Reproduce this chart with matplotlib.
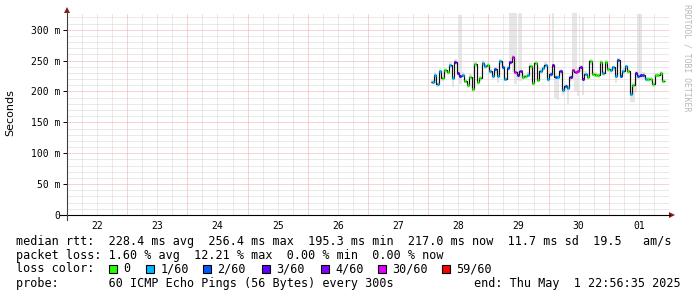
import numpy as np
import matplotlib
matplotlib.use('Agg')
from matplotlib import pyplot as plt
from matplotlib.patches import Rectangle, Polygon
from matplotlib.lines import Line2D

W, H = 697, 297

# time axis in hours since Apr 22 00:00, ten days shown
first_hour = 145.3
day_labels = ['22', '23', '24', '25', '26', '27', '28', '29', '30', '01']

# hourly median rtt (ms)
median_ms = [215.1, 225.9, 211.9, 233.5, 221.6, 234.6, 230.8, 242.2, 221.6, 247.6,
             229.7, 224.3, 227.0, 217.3, 209.7, 223.8, 203.2, 244.3, 214.6, 221.6,
             245.4, 240.5, 243.2, 232.4, 225.4, 236.2, 225.4, 248.6, 240.0, 220.5,
             237.8, 247.6, 256.4, 230.8, 227.0, 232.4, 223.2, 224.3, 227.0, 241.6,
             213.0, 245.9, 218.9, 233.5, 237.8, 243.2, 219.5, 228.1, 243.2, 223.8,
             223.8, 232.4, 202.2, 208.1, 205.4, 222.7, 235.1, 230.8, 232.4, 238.9,
             220.0, 228.6, 223.2, 248.6, 228.6, 227.0, 225.9, 247.6, 229.7, 247.0,
             236.2, 235.1, 238.9, 225.4, 250.8, 225.4, 233.5, 240.5, 232.4, 195.3,
             210.8, 229.7, 225.4, 225.9, 225.9, 220.5, 220.0, 220.5, 211.9, 227.0,
             227.0, 229.7, 217.0]

# lost pings out of 60
loss_count = [1, 1, 1, 1, 0, 0, 0, 1, 1, 3,
              3, 3, 1, 0, 0, 0, 0, 0, 0, 0,
              1, 1, 0, 1, 1, 2, 1, 1, 2, 1,
              2, 3, 30, 30, 3, 4, 0, 0, 1, 0,
              0, 0, 0, 1, 1, 1, 1, 2, 3, 2,
              1, 3, 1, 2, 1, 3, 30, 30, 30, 4,
              3, 1, 0, 0, 0, 0, 0, 0, 1, 0,
              0, 1, 1, 1, 2, 2, 1, 1, 0, 1,
              0, 3, 2, 3, 2, 1, 0, 0, 0, 0,
              0, 0, 0]

# smoke: spread of the pings above / below the median (ms)
smoke_up = [4, 5, 3, 4, 3, 4, 3, 5, 4, 5,
            5, 100, 4, 3, 3, 4, 3, 5, 3, 4,
            5, 4, 3, 4, 3, 4, 3, 4, 4, 3,
            4, 100, 100, 100, 6, 100, 3, 3, 4, 4,
            3, 4, 3, 4, 3, 4, 3, 4, 100, 4,
            3, 4, 3, 4, 3, 4, 100, 100, 6, 4,
            100, 4, 3, 4, 3, 4, 3, 4, 3, 4,
            3, 4, 3, 4, 4, 3, 4, 3, 4, 4,
            4, 4, 100, 100, 5, 3, 4, 3, 4, 3,
            3, 4, 3]
smoke_down = [3, 12, 4, 5, 4, 4, 4, 5, 14, 5,
              5, 12, 4, 4, 4, 4, 4, 5, 4, 4,
              5, 4, 4, 4, 5, 6, 12, 5, 5, 4,
              4, 5, 25, 18, 8, 15, 4, 4, 4, 5,
              4, 5, 4, 4, 4, 4, 5, 5, 6, 35,
              38, 5, 8, 5, 25, 6, 15, 30, 40, 8,
              25, 4, 5, 5, 4, 4, 4, 5, 4, 5,
              4, 5, 5, 12, 12, 4, 5, 4, 4, 12,
              28, 30, 6, 5, 5, 4, 4, 4, 4, 4,
              4, 4, 4]

loss_levels = [0, 1, 2, 3, 4, 30, 59]
loss_names = ['0', '1/60', '2/60', '3/60', '4/60', '30/60', '59/60']
loss_colors = ['#26ff00', '#00b8ff', '#0059ff', '#5e00ff', '#7e00ff', '#dd00ff', '#ff0000']

median_txt = 'median rtt:  228.4 ms avg  256.4 ms max  195.3 ms min  217.0 ms now  11.7 ms sd  19.5   am/s'
loss_txt = 'packet loss: 1.60 % avg  12.21 % max  0.00 % min  0.00 % now'
probe_txt = 'probe:       60 ICMP Echo Pings (56 Bytes) every 300s'
end_txt = 'end: Thu May  1 22:56:35 2025'

mono = 'DejaVu Sans Mono'


def fx(x):
    return x / W


def fy(y):
    return 1 - y / H


fig = plt.figure(figsize=(W / 100, H / 100), dpi=100)
ax = fig.add_axes([fx(67), fy(215), (669 - 67) / W, (215 - 13) / H])
ax.set_xlim(0, 240)
ax.set_ylim(0, 327)
for s in ax.spines.values():
    s.set_visible(False)

# dotted grid, drawn over the smoke
grid_kw = dict(lw=0.72, ls=(0, (1, 1)))
for v in range(0, 241, 6):
    if v % 24:
        ax.axvline(v, color='#d4d4d4', zorder=1.5, **grid_kw)
for v in range(10, 327, 10):
    if v % 50:
        ax.axhline(v, color='#d4d4d4', zorder=1.5, **grid_kw)
for v in range(24, 241, 24):
    ax.axvline(v, color='#f2a8a8', zorder=1.6, **grid_kw)
for v in range(50, 327, 50):
    ax.axhline(v, color='#f2a8a8', zorder=1.6, **grid_kw)

# smoke, median and loss colour
m = np.array(median_ms)
edges = first_hour + np.arange(len(m) + 1)
ax.stairs(m + np.array(smoke_up), edges, baseline=m - np.array(smoke_down),
          fill=True, color='#e6e6e6', lw=0, zorder=1)
ax.stairs(m + 2, edges, baseline=m - 2, fill=True, color='#cdcdcd', lw=0, zorder=1.1)
ax.stairs(m, edges, baseline=None, color='#111111', lw=0.85, zorder=2)
seg_colors = [loss_colors[loss_levels.index(c)] for c in loss_count]
ax.hlines(m, edges[:-1] + 0.1, edges[1:] - 0.1, colors=seg_colors, lw=2.2, zorder=3)

# ticks
ax.set_yticks(range(0, 301, 50))
ax.set_yticklabels(['0'] + ['%d m' % v for v in range(50, 301, 50)])
ax.set_xticks(np.arange(12, 240, 24))
ax.set_xticklabels(day_labels)
ax.tick_params(axis='x', length=0, pad=4, labelsize=7)
ax.tick_params(axis='y', length=3, width=0.7, pad=2, labelsize=7)
for lab in ax.get_xticklabels() + ax.get_yticklabels():
    lab.set_family(mono)

fig.text(fx(10), fy(113), 'Seconds', rotation=90, ha='center', va='center',
         fontsize=8, family='DejaVu Sans')

# axis lines with arrows
fig.add_artist(Line2D([fx(60), fx(670)], [fy(215), fy(215)], color='black', lw=0.8))
fig.add_artist(Line2D([fx(67), fx(67)], [fy(220), fy(11)], color='#404040', lw=0.8))
fig.add_artist(Polygon([(fx(669), fy(212)), (fx(675), fy(215)), (fx(669), fy(218))],
                       closed=True, color='#8b1a1a', lw=0))
fig.add_artist(Polygon([(fx(64), fy(13)), (fx(67), fy(7)), (fx(70), fy(13))],
                       closed=True, color='#8b1a1a', lw=0))

fig.text(fx(687), fy(4), 'RRDTOOL / TOBI OETIKER', rotation=270, ha='center', va='top',
         fontsize=5.9, family=mono, color='#b8b8b8')

# legend
fs = 8.5
fig.text(fx(16), fy(241), median_txt, ha='left', va='center', fontsize=fs, family=mono)
fig.text(fx(16), fy(255), loss_txt, ha='left', va='center', fontsize=fs, family=mono)
fig.text(fx(16), fy(269), 'loss color:', ha='left', va='center', fontsize=fs, family=mono)
sq_x = [108.5, 145.5, 202.5, 261.5, 320.5, 377.5, 441.5]
for x0, col, name in zip(sq_x, loss_colors, loss_names):
    fig.add_artist(Rectangle((fx(x0), fy(273)), 8 / W, 8 / H, facecolor=col,
                             edgecolor='black', lw=0.8))
    fig.text(fx(x0 + 15), fy(269), name, ha='left', va='center', fontsize=fs, family=mono)
fig.text(fx(16), fy(283), probe_txt, ha='left', va='center', fontsize=fs, family=mono)
fig.text(fx(681), fy(283), end_txt, ha='right', va='center', fontsize=fs, family=mono)

fig.savefig('out.png', dpi=100, facecolor='white')
